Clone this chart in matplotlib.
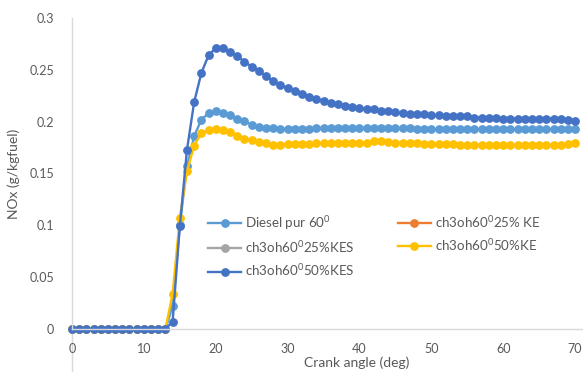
import matplotlib
matplotlib.use("Agg")
import matplotlib.pyplot as plt

# --- data ---
crank_angle = list(range(0, 71))

diesel_60 = [0.0] * 14 + [
    0.022, 0.100, 0.157, 0.186, 0.202, 0.208, 0.210, 0.208, 0.206, 0.203,
    0.201, 0.197, 0.195, 0.194, 0.194, 0.193, 0.193, 0.193, 0.193, 0.193,
] + [0.194] * 14 + [0.1925] * 23

# the two 25% series are not visible in the picture (legend only)
ke25 = []
kes25 = []

ke50 = [0.0] * 14 + [
    0.034, 0.107, 0.152, 0.177, 0.189, 0.192, 0.193, 0.192, 0.190, 0.186,
    0.183, 0.182, 0.180, 0.179, 0.1775, 0.1775, 0.178, 0.178, 0.178, 0.178,
    0.179,
] + [0.1795] * 7 + [0.181, 0.181, 0.180] + [0.1795] * 4 + [0.1785] * 5 \
  + [0.1775] * 15 + [0.178, 0.179]

kes50 = [0.0] * 14 + [
    0.007, 0.099, 0.173, 0.219, 0.247, 0.264, 0.271, 0.271, 0.267, 0.263,
    0.258, 0.253, 0.249, 0.244, 0.239, 0.235, 0.232, 0.230, 0.227, 0.224,
    0.222, 0.220, 0.218, 0.217, 0.215, 0.214, 0.213, 0.212, 0.212, 0.210,
    0.210, 0.209, 0.208, 0.207, 0.207, 0.207, 0.206, 0.206, 0.205, 0.205,
    0.205, 0.205, 0.204, 0.204, 0.204, 0.204, 0.203, 0.203, 0.203, 0.203,
    0.203, 0.203, 0.203, 0.203, 0.203, 0.202, 0.201,
]

SUP0 = r"$^{\mathregular{0}}$"
labels = ["Diesel pur 60" + SUP0, "ch3oh60" + SUP0 + "25% KE",
          "ch3oh60" + SUP0 + "25%KES", "ch3oh60" + SUP0 + "50%KE",
          "ch3oh60" + SUP0 + "50%KES"]
colors = ["#5B9BD5", "#ED7D31", "#A5A5A5", "#FFC000", "#4472C4"]
x_ticks = [0, 10, 20, 30, 40, 50, 60, 70]
y_ticks = [0, 0.05, 0.1, 0.15, 0.2, 0.25, 0.3]

plt.rcParams['font.family'] = ['Lato', 'DejaVu Sans']
plt.rcParams['mathtext.default'] = 'regular'
TEXT = "#595959"
AXIS = "#D9D9D9"

W, H = 583, 372
fig = plt.figure(figsize=(W / 100, H / 100), dpi=100)
# axes box in pixels: left 72, right 583, bottom 329, top 18
ax = fig.add_axes([72 / W, 1 - 329 / H, (583 - 72) / W, (329 - 18) / H])

series = [diesel_60, ke25, kes25, ke50, kes50]
handles = []
for vals, lab, col in zip(series, labels, colors):
    xs = crank_angle[:len(vals)]
    h, = ax.plot(xs, vals, color=col, lw=1.7, marker='o', ms=5.3,
                 label=lab, clip_on=False)
    handles.append(h)

ax.set_xlim(0, 71.1)
ax.set_ylim(0, 0.3)
ax.set_xticks(x_ticks)
ax.set_yticks(y_ticks)
ax.set_yticklabels(["0", "0.05", "0.1", "0.15", "0.2", "0.25", "0.3"])

for s in ["top", "right"]:
    ax.spines[s].set_visible(False)
ax.spines["left"].set_color(AXIS)
ax.spines["bottom"].set_color(AXIS)
ax.spines["left"].set_linewidth(1.0)
ax.spines["bottom"].set_linewidth(1.0)
# vertical axis line keeps going below the zero line
ax.plot([0, 0], [0, -0.14], transform=ax.transAxes, color=AXIS, lw=1.0,
        clip_on=False, zorder=0)

ax.tick_params(axis='both', length=0, labelsize=9, labelcolor=TEXT)
ax.tick_params(axis='x', pad=10)
ax.tick_params(axis='y', pad=13)

ax.set_xlabel("Crank angle (deg)", fontsize=10, color=TEXT)
ax.xaxis.set_label_coords((357 - 72) / (583 - 72), -(356 - 329) / (329 - 18))
ax.set_ylabel("NOx (g/kgfuel)", fontsize=10, color=TEXT)
ax.yaxis.set_label_coords(-(72 - 20) / (583 - 72), 0.5)

# legend order: column-first in matplotlib, Excel fills row-first
order = [0, 2, 4, 1, 3]
leg = ax.legend([handles[i] for i in order], [labels[i] for i in order],
                ncol=2, frameon=False, fontsize=9.6, labelcolor=TEXT,
                loc='upper left', bbox_to_anchor=(208 / W, 1 - 214 / H),
                bbox_transform=fig.transFigure, handlelength=2.5,
                handletextpad=0.3, columnspacing=3.2, labelspacing=0.55,
                borderaxespad=0, borderpad=0)

fig.savefig("out.png", dpi=100)
